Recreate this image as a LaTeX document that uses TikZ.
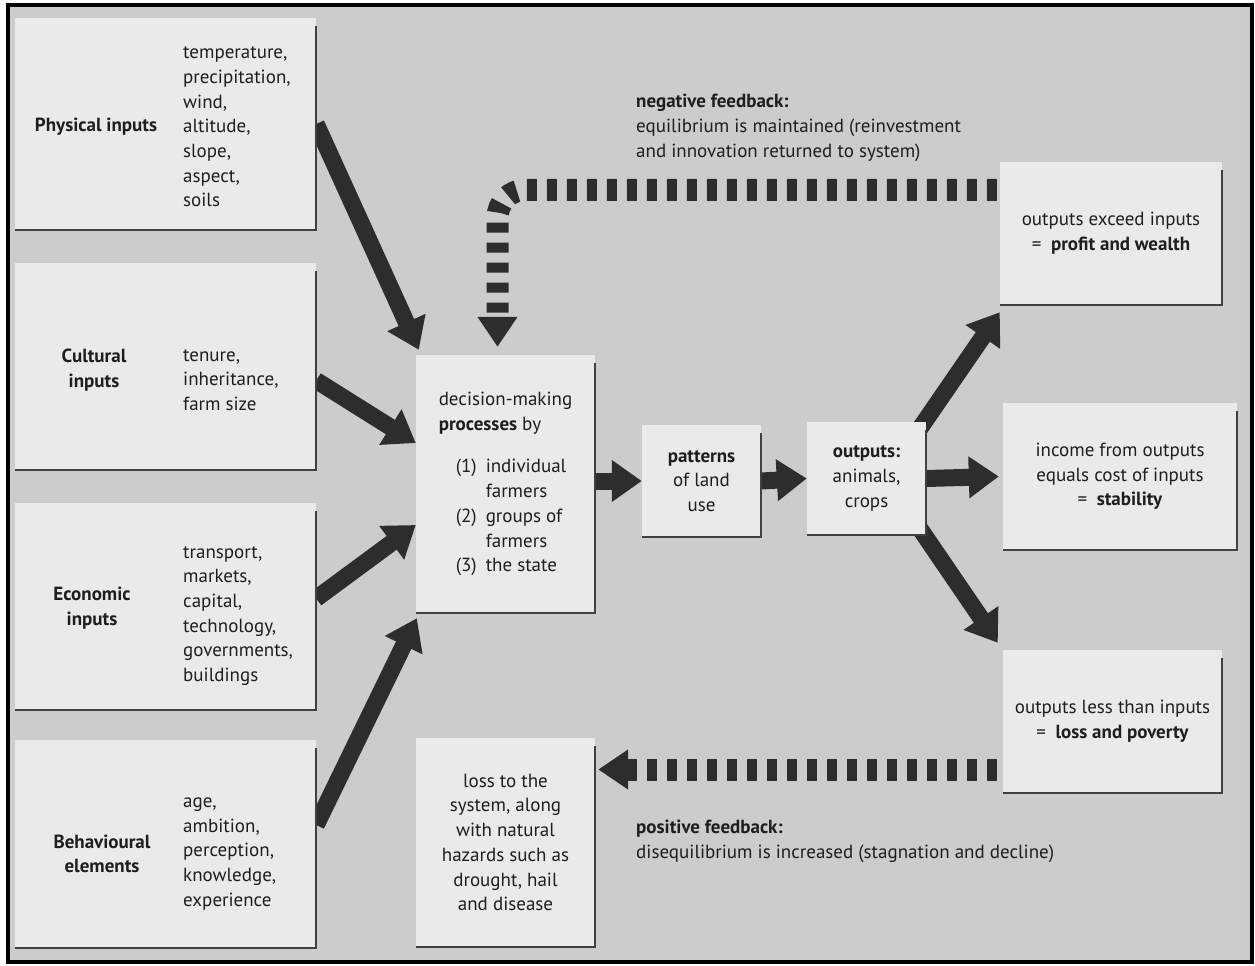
\documentclass[tikz,border=0pt]{standalone}
\usepackage{fontspec}
\setmainfont{PT Sans}
\usetikzlibrary{arrows.meta,calc}
\definecolor{paper}{RGB}{204,204,202}
\definecolor{panelfill}{RGB}{234,234,232}
\definecolor{ink}{RGB}{30,30,30}
\definecolor{arrowink}{RGB}{45,45,45}
\newcommand{\diagfont}{\fontsize{19}{24.7}\selectfont}
\pgfdeclarelayer{paperlayer}
\pgfdeclarelayer{linklayer}
\pgfsetlayers{paperlayer,linklayer,main}
\tikzset{
  panel/.style={fill=panelfill, inner sep=0pt, text=ink, font=\diagfont, align=center},
  head/.style={font=\diagfont\bfseries, text=ink, align=center, inner sep=0pt},
  list/.style={font=\diagfont, text=ink, align=left, inner sep=0pt, anchor=west},
  edge/.style={line width=1.6, draw=black!75},
  bigarrow/.style={line width=17, draw=arrowink, -{Triangle[length=30pt,width=40pt]}},
  fbarrow/.style={line width=22, draw=arrowink, dash pattern=on 10pt off 10pt, -{Triangle[length=30pt,width=38pt]}}
}

\begin{document}
\begin{tikzpicture}[x=1pt,y=-1pt,line cap=butt,line join=miter]
\useasboundingbox (0,0) rectangle (1255,966);
\begin{pgfonlayer}{paperlayer}
	\fill[white] (0,0) rectangle (1255,966);
	\draw[line width=4, fill=paper] (8,5) rectangle (1252,962);
\end{pgfonlayer}

% input boxes
\node[panel, minimum width=301, minimum height=212] (phys) at (165.5,124) {};
\node[panel, minimum width=301, minimum height=207] (cult) at (165.5,366.5) {};
\node[panel, minimum width=301, minimum height=207] (econ) at (165.5,606.5) {};
\node[panel, minimum width=301, minimum height=208] (behav) at (165.5,844) {};

\node[head] (physhead) at (96,127) {Physical inputs};
\node[list] (physlist) at (183,127) {temperature,\\precipitation,\\wind,\\altitude,\\slope,\\aspect,\\soils};
\node[head] (culthead) at (94,370) {Cultural\\inputs};
\node[list] (cultlist) at (183,380) {tenure,\\inheritance,\\farm size};
\node[head] (econhead) at (92,608) {Economic\\inputs};
\node[list] (econlist) at (183,616) {transport,\\markets,\\capital,\\technology,\\governments,\\buildings};
\node[head] (behavhead) at (102,854) {Behavioural\\elements};
\node[list] (behavlist) at (183,854) {age,\\ambition,\\perception,\\knowledge,\\experience};

% central chain
\node[panel, minimum width=179, minimum height=258, align=left] (dec) at (505.5,484) {decision-making\\\textbf{processes} by\\[18pt]
	\hspace*{17pt}\makebox[30pt][l]{(1)}individual\\\hspace*{47pt}farmers\\
	\hspace*{17pt}\makebox[30pt][l]{(2)}groups of\\\hspace*{47pt}farmers\\
	\hspace*{17pt}\makebox[30pt][l]{(3)}the state};
\node[panel, minimum width=119, minimum height=112] (pat) at (701.5,481) {\textbf{patterns}\\of land\\use};
\node[panel, minimum width=119, minimum height=113] (out) at (866.5,478.5) {\textbf{outputs:}\\animals,\\crops};

% results
\node[panel, minimum width=222, minimum height=143] (prof) at (1111,233.5) {outputs exceed inputs\\=\enspace\textbf{profit and wealth}};
\node[panel, minimum width=234, minimum height=147] (stab) at (1120,476.5) {income from outputs\\equals cost of inputs\\=\enspace\textbf{stability}};
\node[panel, minimum width=219, minimum height=143] (poor) at (1112.5,721.5) {outputs less than inputs\\=\enspace\textbf{loss and poverty}};
\node[panel, minimum width=179, minimum height=209] (sys) at (505.5,842.5) {loss to the\\system, along\\with natural\\hazards such as\\drought, hail\\and disease};

% feedback notes
\node[list] (negnote) at (636,128) {\textbf{negative feedback:}\\equilibrium is maintained (reinvestment\\and innovation returned to system)};
\node[list] (posnote) at (636,841) {\textbf{positive feedback:}\\disequilibrium is increased (stagnation and decline)};

% shadow edges
\foreach \n in {phys,cult,econ,behav,dec,pat,out,prof,stab,poor,sys}
	\draw[edge] ($(\n.north east)+(0,8)$) -- (\n.south east) -- (\n.south west);

\begin{pgfonlayer}{linklayer}
	\draw[bigarrow] (phys.east) -- ($(dec.north west)+(3,-5)$);
	\draw[bigarrow] ($(cult.east)+(0,14)$) -- ($(dec.west)+(0,-41)$);
	\draw[bigarrow] ($(econ.east)+(0,-8)$) -- ($(dec.west)+(0,41)$);
	\draw[bigarrow] ($(behav.east)+(0,-19)$) -- ($(dec.south west)+(1,5)$);
	\draw[bigarrow] (dec.east |- pat.west) -- (pat.west);
	\draw[bigarrow] (pat.east) -- (out.west);
	\draw[bigarrow] ($(out.north east)+(-10,12)$) -- ($(prof.south west)+(0,7)$);
	\draw[bigarrow] (out.east) -- ($(stab.west)+(-4,0)$);
	\draw[bigarrow] ($(out.south east)+(-10,-12)$) -- ($(poor.north west)+(-5,-7)$);
	% feedback loops
	\coordinate (negstart) at ($(prof.north west)+(-3,28)$);
	\draw[fbarrow, rounded corners=28pt] (negstart) -| ($(dec.north)+(-8,-8)$);
	\coordinate (posstart) at ($(poor.west)+(-6,48)$);
	\draw[fbarrow] (posstart) -- ($(posstart -| sys.east)+(3,0)$);
\end{pgfonlayer}
\end{tikzpicture}
\end{document}
